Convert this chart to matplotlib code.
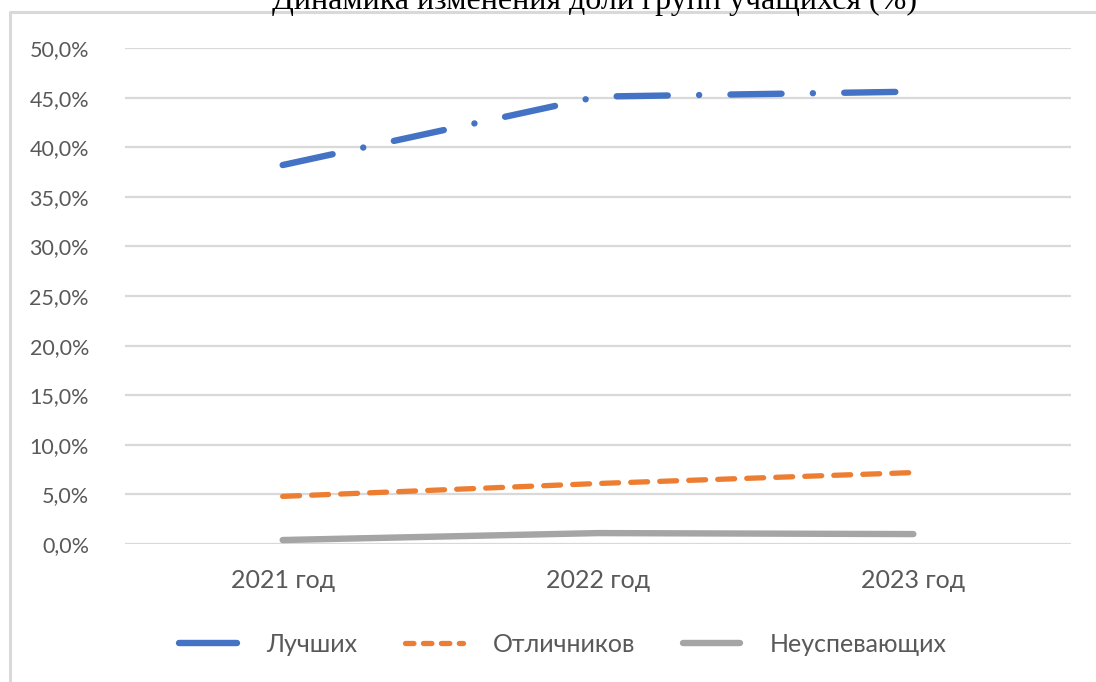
import numpy as np
import matplotlib.pyplot as plt
from matplotlib.lines import Line2D
from matplotlib.ticker import FuncFormatter

years = ['2021 год', '2022 год', '2023 год']
best = [0.382, 0.451, 0.456]
excellent = [0.048, 0.061, 0.072]
failing = [0.004, 0.011, 0.010]
names = ['Лучших', 'Отличников', 'Неуспевающих']
title = 'Динамика изменения доли групп учащихся (%)'

W, H = 1096, 682
fig = plt.figure(figsize=(W / 100, H / 100), dpi=100)
plt.rcParams['font.family'] = ['Lato', 'DejaVu Sans']

# outer chart frame (light grey), cut by the image edge on the right/bottom
frame = Line2D([10 / W, 10 / W, 1.01], [-0.01, 1 - 12 / H, 1 - 12 / H],
               transform=fig.transFigure, color='#d9d9d9', lw=2.2)
fig.add_artist(frame)

# title sits above the frame and is cut by the top of the image, as in the source
fig.text(594 / W, 1 - 9 / H, title, ha='center', va='baseline',
         family='Liberation Serif', fontsize=23, color='black')

ax = fig.add_axes([125 / W, 1 - 544 / H, (1071 - 125) / W, (544 - 48) / H])
x = np.arange(len(years))

ax.plot(x, best, color='#4472c4', lw=4.6, dash_capstyle='round',
        dashes=(8.0, 4.9, 0.01, 4.9), label=names[0], zorder=3)
ax.plot(x, excellent, color='#ed7d31', lw=3.8, dash_capstyle='round',
        dashes=(3.2, 2.3), label=names[1], zorder=3)
ax.plot(x, failing, color='#a5a5a5', lw=4.6, solid_capstyle='round',
        label=names[2], zorder=3)

ax.set_xlim(-0.5, 2.5)
ax.set_ylim(0, 0.5)
ax.set_yticks(np.arange(0, 0.51, 0.05))
ax.yaxis.set_major_formatter(FuncFormatter(lambda v, p: f'{v * 100:.1f}%'.replace('.', ',')))
ax.set_xticks(x)
ax.set_xticklabels(years)
ax.grid(axis='y', color='#d9d9d9', lw=1.6)
ax.set_axisbelow(True)
for s in ax.spines.values():
    s.set_visible(False)
ax.tick_params(axis='both', length=0, colors='#595959')
ax.tick_params(axis='y', pad=26, labelsize=15.5)
ax.tick_params(axis='x', pad=18, labelsize=18)
ax.patch.set_alpha(0)

handles = [Line2D([], [], color='#4472c4', lw=4.6, solid_capstyle='round'),
           Line2D([], [], color='#ed7d31', lw=3.8, dash_capstyle='round', dashes=(1.6, 1.8)),
           Line2D([], [], color='#a5a5a5', lw=4.6, solid_capstyle='round')]
fig.legend(handles, names, loc='center', bbox_to_anchor=(563 / W, 1 - 644 / H),
           ncol=3, frameon=False, fontsize=18, labelcolor='#595959',
           handlelength=2.3, handletextpad=1.2, columnspacing=1.9)

fig.savefig('out.png', dpi=100)
